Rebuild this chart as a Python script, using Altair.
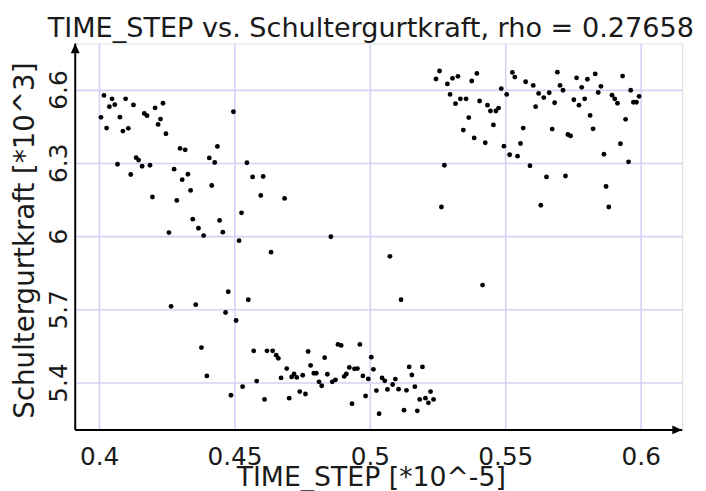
import altair as alt
import pandas as pd

# ---- data (TIME_STEP [*10^-5], Schultergurtkraft [*10^3]) ----
left_x = [0.4018, 0.4048, 0.4098, 0.4038, 0.4058, 0.4127, 0.4236, 0.4207, 0.4007, 0.4077,
          0.4167, 0.4177, 0.4227, 0.4218, 0.4028, 0.4088, 0.4108, 0.4247, 0.4496, 0.4299,
          0.4318, 0.4437, 0.4137, 0.4146, 0.4068, 0.4159, 0.4188, 0.4407, 0.4427, 0.4546,
          0.4117, 0.4277, 0.4328, 0.4307, 0.4567, 0.4606, 0.4338, 0.4416, 0.4197, 0.4287,
          0.4597, 0.4685, 0.4526, 0.4346, 0.4445, 0.4367, 0.4457, 0.4258, 0.4386, 0.4517,
          0.4635, 0.4856]
left_y = [6.576, 6.562, 6.562, 6.530, 6.538, 6.537, 6.544, 6.525, 6.486, 6.487,
          6.502, 6.493, 6.479, 6.457, 6.442, 6.430, 6.441, 6.419, 6.509, 6.359,
          6.353, 6.367, 6.321, 6.311, 6.294, 6.286, 6.290, 6.320, 6.301, 6.300,
          6.252, 6.274, 6.253, 6.231, 6.242, 6.244, 6.187, 6.207, 6.160, 6.146,
          6.166, 6.154, 6.095, 6.069, 6.064, 6.032, 6.016, 6.014, 6.002, 5.981,
          5.934, 5.997]

mid_x = [0.4477, 0.4266, 0.4357, 0.4467, 0.4506, 0.4378, 0.4398, 0.4487]
mid_y = [5.772, 5.712, 5.719, 5.687, 5.654, 5.543, 5.427, 5.348]

low_x = [0.4551, 0.5115, 0.5416, 0.4530, 0.4571, 0.4582, 0.4611, 0.4620, 0.4641, 0.4654,
         0.4662, 0.4693, 0.4672, 0.4702, 0.4711, 0.4720, 0.4730, 0.4741, 0.4752, 0.4762,
         0.4772, 0.4781, 0.4793, 0.4802, 0.4812, 0.4822, 0.4833, 0.4843, 0.4861, 0.4873,
         0.4882, 0.4894, 0.4905, 0.4913, 0.4924, 0.4934, 0.4943, 0.4954, 0.4963, 0.4974,
         0.4984, 0.4994, 0.5005, 0.5013, 0.5024, 0.5034, 0.5045, 0.5055, 0.5065, 0.5084,
         0.5094, 0.5106, 0.5126, 0.5135, 0.5145, 0.5155, 0.5166, 0.5175, 0.5184, 0.5194,
         0.5205, 0.5216, 0.5224, 0.5235]
low_y = [5.739, 5.739, 5.799, 5.383, 5.530, 5.406, 5.331, 5.530, 5.530, 5.512,
         5.499, 5.457, 5.419, 5.336, 5.423, 5.435, 5.421, 5.363, 5.430, 5.353,
         5.527, 5.470, 5.438, 5.438, 5.403, 5.387, 5.502, 5.434, 5.403, 5.411,
         5.556, 5.552, 5.425, 5.435, 5.462, 5.313, 5.456, 5.457, 5.556, 5.427,
         5.345, 5.415, 5.504, 5.454, 5.367, 5.272, 5.419, 5.407, 5.372, 5.392,
         5.414, 5.373, 5.287, 5.368, 5.464, 5.431, 5.383, 5.284, 5.331, 5.464,
         5.336, 5.317, 5.363, 5.331]

right1_x = [0.5257, 0.5244, 0.5286, 0.5305, 0.5325, 0.5376, 0.5395, 0.5296, 0.5316, 0.5334,
            0.5355, 0.5405, 0.5434, 0.5445, 0.5465, 0.5475, 0.5365, 0.5456, 0.5345, 0.5385,
            0.5426, 0.5485, 0.5505, 0.5495, 0.5516, 0.5545, 0.5556, 0.5566, 0.5526, 0.5535,
            0.5575, 0.5275, 0.5264, 0.5074]
right1_y = [6.676, 6.643, 6.623, 6.646, 6.654, 6.635, 6.666, 6.580, 6.542, 6.562,
            6.562, 6.553, 6.536, 6.512, 6.512, 6.524, 6.485, 6.455, 6.434, 6.402,
            6.382, 6.604, 6.580, 6.368, 6.333, 6.327, 6.379, 6.442, 6.670, 6.651,
            6.632, 6.290, 6.119, 5.917]

right2_x = [0.5603, 0.5623, 0.5642, 0.5662, 0.5612, 0.5682, 0.5692, 0.5702, 0.5713, 0.5753,
            0.5763, 0.5772, 0.5782, 0.5793, 0.5803, 0.5832, 0.5843, 0.5853, 0.5813, 0.5824,
            0.5673, 0.5731, 0.5741, 0.5894, 0.5904, 0.5914, 0.5933, 0.5963, 0.5973, 0.5984,
            0.5994, 0.5944, 0.5925, 0.5864, 0.5955, 0.5591, 0.5652, 0.5722, 0.5631, 0.5872,
            0.5882]
right2_y = [6.617, 6.584, 6.567, 6.587, 6.530, 6.546, 6.671, 6.617, 6.597, 6.558,
            6.648, 6.536, 6.609, 6.562, 6.642, 6.664, 6.588, 6.613, 6.494, 6.439,
            6.438, 6.416, 6.410, 6.577, 6.562, 6.544, 6.655, 6.597, 6.548, 6.548,
            6.572, 6.478, 6.378, 6.335, 6.304, 6.288, 6.242, 6.246, 6.126, 6.203,
            6.119]

x_ticks = [0.4, 0.45, 0.5, 0.55, 0.6]
y_ticks = [5.4, 5.7, 6.0, 6.3, 6.6]
x_range = [0.3912, 0.6153]
y_range = [5.206, 6.789]

title_text = "TIME_STEP vs. Schultergurtkraft, rho = 0.27658"
x_title = "TIME_STEP [*10^-5]"
y_title = "Schultergurtkraft [*10^3]"

FONT = "DejaVu Sans"
GRID = "#d2d2f6"
TXT = "#1a1a1a"

df = pd.DataFrame({
    "t": left_x + mid_x + low_x + right1_x + right2_x,
    "f": left_y + mid_y + low_y + right1_y + right2_y,
})
one = pd.DataFrame({"k": [0]})

xscale = alt.Scale(domain=x_range, nice=False, zero=False)
yscale = alt.Scale(domain=y_range, nice=False, zero=False)

points = alt.Chart(df).mark_circle(size=24, color="black", opacity=1).encode(
    x=alt.X("t:Q", scale=xscale, axis=alt.Axis(
        values=x_ticks, format="~g", title=x_title, grid=True, gridColor=GRID,
        gridWidth=1.6, domain=False, ticks=False, labelFontSize=25, labelFont=FONT,
        labelColor=TXT, labelPadding=15, titleFontSize=27, titleFont=FONT,
        titleFontWeight="normal", titleColor=TXT, titleBaseline="alphabetic",
        titleAlign="center", titleX=299, titleY=56, labelFlush=False)),
    y=alt.Y("f:Q", scale=yscale, axis=alt.Axis(
        values=y_ticks, format="~g", title=y_title, grid=True, gridColor=GRID,
        gridWidth=1.6, domain=False, ticks=False, labelFontSize=25, labelFont=FONT,
        labelColor=TXT, labelPadding=9, labelAngle=270, labelAlign="center",
        labelBaseline="alphabetic", titleFontSize=28, titleFont=FONT,
        titleFontWeight="normal", titleColor=TXT, titleAngle=270,
        titleBaseline="alphabetic", titleAlign="center", titleX=-42, titleY=199,
        labelFlush=False)),
)

x_axis_line = alt.Chart(one).mark_rule(color="black", strokeWidth=2).encode(
    x=alt.datum(x_range[0], scale=xscale), x2=alt.datum(x_range[1]),
    y=alt.datum(y_range[0], scale=yscale))
y_axis_line = alt.Chart(one).mark_rule(color="black", strokeWidth=2).encode(
    x=alt.datum(x_range[0], scale=xscale),
    y=alt.datum(y_range[0], scale=yscale), y2=alt.datum(y_range[1]))

x_arrow = alt.Chart(one).mark_point(
    shape="M0,0L-1,-0.45L-1,0.45Z", filled=True, size=400, color="black",
    opacity=1, strokeWidth=0).encode(
    x=alt.datum(x_range[1], scale=xscale), y=alt.datum(y_range[0], scale=yscale))
y_arrow = alt.Chart(one).mark_point(
    shape="M0,0L-0.45,1L0.45,1Z", filled=True, size=400, color="black",
    opacity=1, strokeWidth=0).encode(
    x=alt.datum(x_range[0], scale=xscale), y=alt.datum(y_range[1], scale=yscale))

chart = alt.layer(points, x_axis_line, y_axis_line, x_arrow, y_arrow).properties(
    width=614, height=391,
    padding={"left": 68, "top": 33, "right": 16, "bottom": 59},
    autosize=alt.AutoSizeParams(type="none"),
    title=alt.TitleParams(title_text, font=FONT, fontSize=27.4, fontWeight="normal",
                          color=TXT, anchor="middle", dx=-8, offset=0),
).configure_view(stroke=None).configure(background="white")

chart.save("out.html", embed_options={"renderer": "svg", "actions": False})
